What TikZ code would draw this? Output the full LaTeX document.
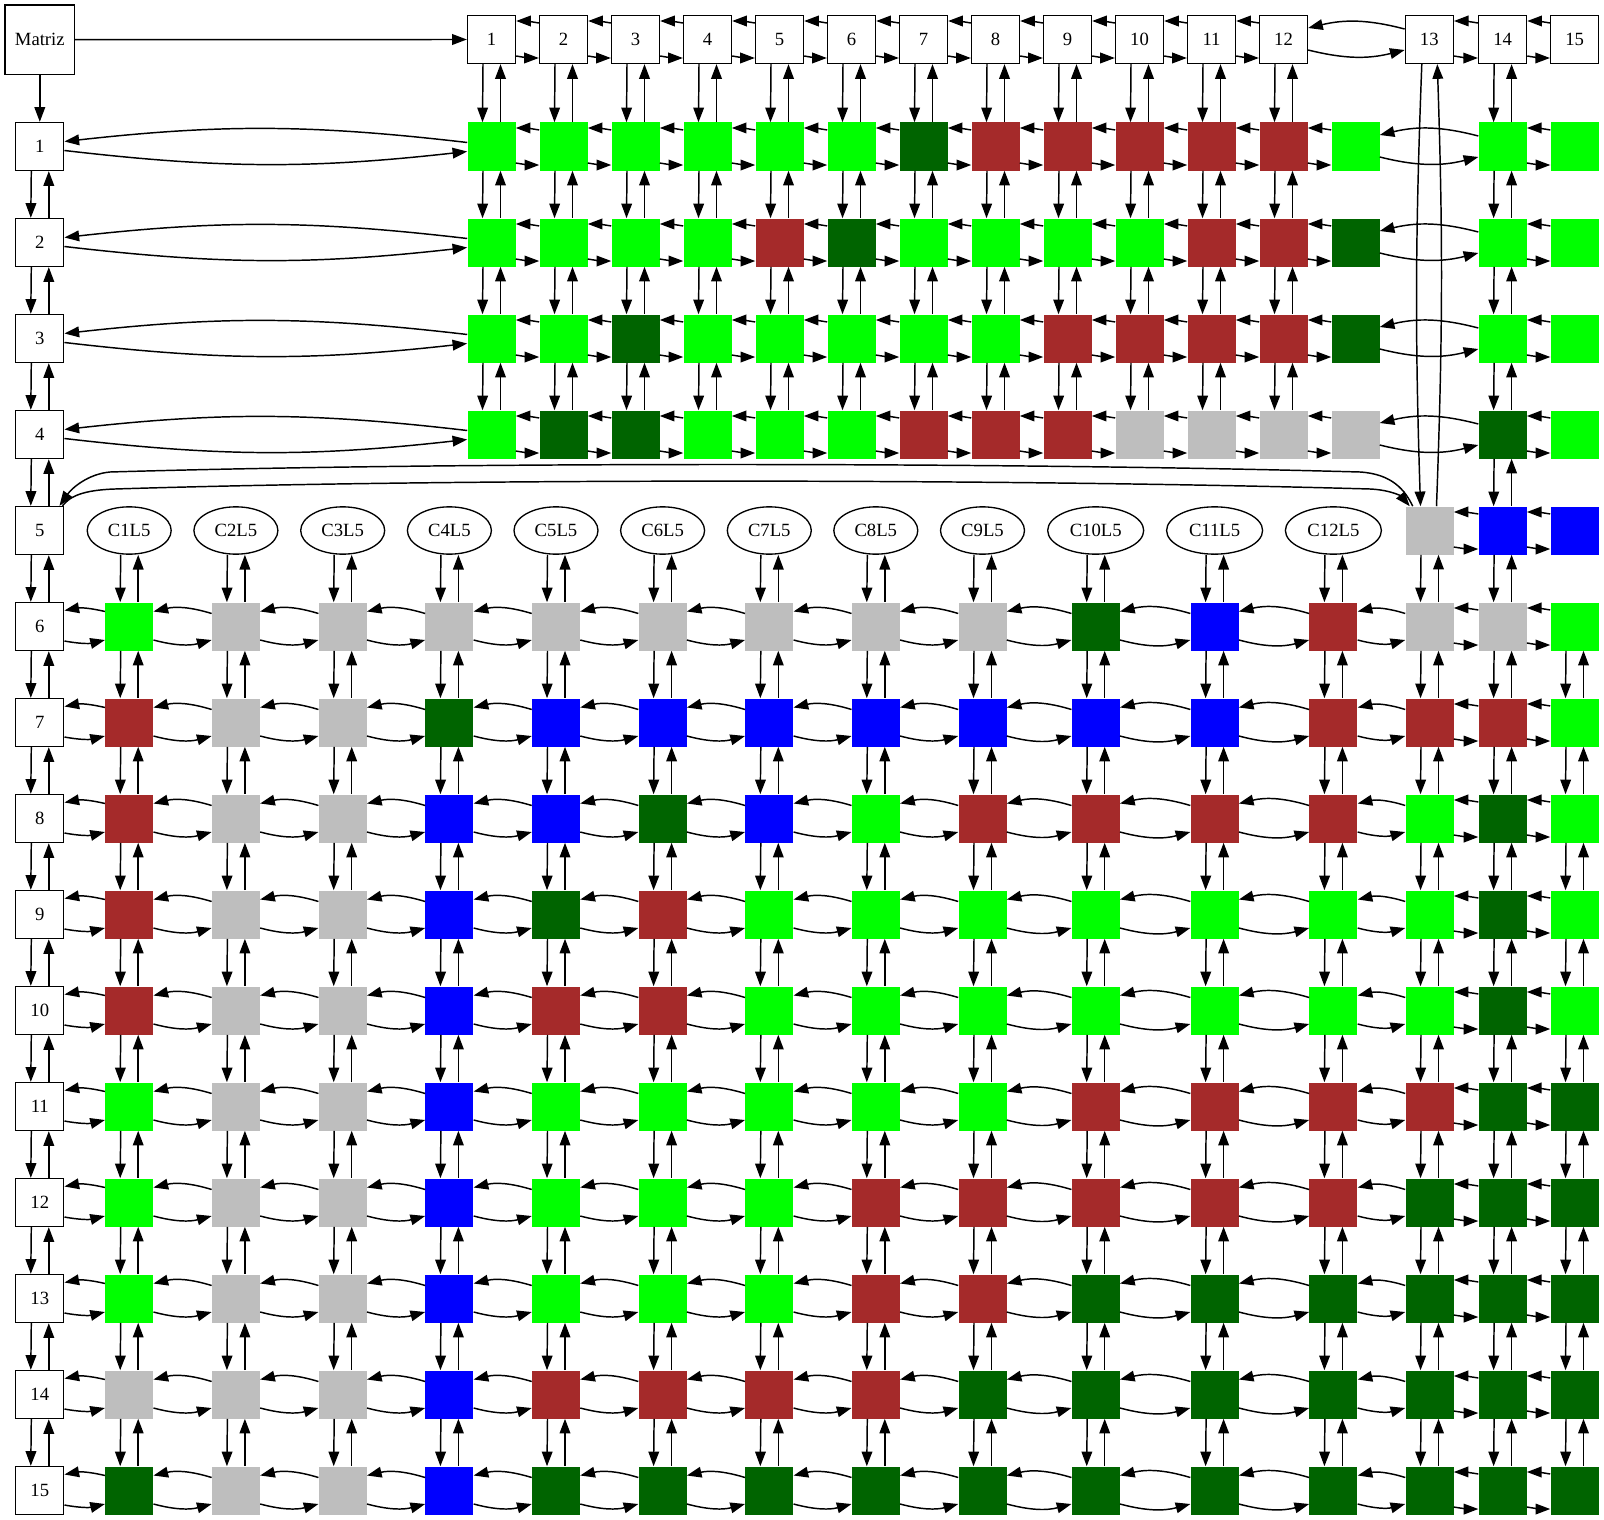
\documentclass[tikz,border=0pt]{standalone}
\usepackage{fontspec}
\setmainfont{Liberation Serif}
\usetikzlibrary{arrows.meta,calc,shapes.geometric}
\definecolor{cG}{RGB}{0,255,0}
\definecolor{cD}{RGB}{0,100,0}
\definecolor{cR}{RGB}{165,42,42}
\definecolor{cS}{RGB}{190,190,190}
\definecolor{cB}{RGB}{0,0,255}
\newcommand\hshort[2]{%
  \draw[arr] ($(#2.west)+(0,16.5)$) to[bend right=5] ($(#1.east)+(0,18.5)$);
  \draw[arr] ($(#1.east)+(0,-16.5)$) to[bend right=5] ($(#2.west)+(0,-18.5)$);}
\newcommand\hmid[2]{%
  \draw[arr] ($(#2.west)+(0,13)$) to[bend right=15] ($(#1.east)+(0,15)$);
  \draw[arr] ($(#1.east)+(0,-13.5)$) to[bend right=15] ($(#2.west)+(0,-13.5)$);}
\newcommand\hwide[2]{%
  \draw[arr] ($(#2.west)+(0,10.5)$) to[bend right=14] ($(#1.east)+(0,11.5)$);
  \draw[arr] ($(#1.east)+(0,-10.5)$) to[bend right=14] ($(#2.west)+(0,-10.5)$);}
\newcommand\vpair[2]{%
  \draw[arr] ($(#1.south)+(-8.5,0)$) -- ($(#2.north)+(-9,0)$);
  \draw[arr] ($(#2.north)+(9,0)$) -- ($(#1.south)+(9,0)$);}
\def\topX{{491.5,563.5,635.5,707.5,779.5,851.5,923.5,995.5,1067.5,1139.5,1211.5,1283.5,1355.5,1502.6,1574.6}}
\def\lowX{{129.2,235.9,342.7,449.4,556,662.6,769.3,875.8,982.5,1095.7,1214.6,1333.4,1429.5,1502.6,1574.5}}
\begin{document}
\begin{tikzpicture}[x=0.75pt,y=0.75pt,
  font=\fontsize{14}{16}\selectfont,
  hdr/.style={draw,line width=1pt,minimum size=36pt,inner sep=0pt},
  cell/.style={minimum size=36pt,inner sep=0pt},
  ell/.style={draw,ellipse,line width=1pt,inner sep=0pt,minimum height=35.5pt},
  arr/.style={-{Triangle[length=11pt,width=8pt]},line width=1.1pt}]
\useasboundingbox (0,0) rectangle (1604,-1520);

% headers
\node[hdr,minimum size=52pt] (m) at (39.8,-39.7) {Matriz};
\foreach \x [count=\j] in {491.5,563.5,635.5,707.5,779.5,851.5,923.5,995.5,1067.5,1139.5,1211.5,1283.5,1429.3,1502.6,1574.6}
  \node[hdr] (h\j) at (\x,-39.5) {\j};
\foreach \i in {1,...,15}
  \node[hdr] (r\i) at (39.8,{-146.5-96*(\i-1)}) {\i};

% upper cells (rows 1-4)
\foreach \row [count=\i] in {
  {G,G,G,G,G,G,D,R,R,R,R,R,G,G,G},
  {G,G,G,G,R,D,G,G,G,G,R,R,D,G,G},
  {G,G,D,G,G,G,G,G,R,R,R,R,D,G,G},
  {G,D,D,G,G,G,R,R,R,S,S,S,S,D,G}}{
  \foreach \c [count=\j] in \row {
    \pgfmathsetmacro\xx{\topX[\j-1]}
    \node[cell,fill=c\c] (n-\i-\j) at (\xx,{-146.5-96*(\i-1)}) {};
  }
}

% row 5
\foreach \x [count=\j] in {129.2,235.9,342.7,449.4,556,662.6,769.3,875.8,982.5,1095.7,1214.6,1333.4}{
  \pgfmathsetmacro\ew{\j>9 ? 72 : 63}
  \node[ell,minimum width=\ew pt] (e\j) at (\x,-530.5) {C\j L5};
}
\node[cell,fill=cS] (n-5-13) at (1429.5,-530.5) {};
\node[cell,fill=cB] (n-5-14) at (1502.6,-530.5) {};
\node[cell,fill=cB] (n-5-15) at (1574.5,-530.5) {};

% lower cells (rows 6-15)
\foreach \row [count=\ii] in {
  {G,S,S,S,S,S,S,S,S,D,B,R,S,S,G},
  {R,S,S,D,B,B,B,B,B,B,B,R,R,R,G},
  {R,S,S,B,B,D,B,G,R,R,R,R,G,D,G},
  {R,S,S,B,D,R,G,G,G,G,G,G,G,D,G},
  {R,S,S,B,R,R,G,G,G,G,G,G,G,D,G},
  {G,S,S,B,G,G,G,G,G,R,R,R,R,D,D},
  {G,S,S,B,G,G,G,R,R,R,R,R,D,D,D},
  {G,S,S,B,G,G,G,R,R,D,D,D,D,D,D},
  {S,S,S,B,R,R,R,R,D,D,D,D,D,D,D},
  {D,S,S,B,D,D,D,D,D,D,D,D,D,D,D}}{
  \pgfmathtruncatemacro\i{\ii+5}
  \foreach \c [count=\j] in \row {
    \pgfmathsetmacro\xx{\lowX[\j-1]}
    \node[cell,fill=c\c] (n-\i-\j) at (\xx,{-146.5-96*(\i-1)}) {};
  }
}

% ---------- connectors ----------
\draw[arr] (m.east) -- (h1.west);
\draw[arr] (m.south) -- (r1.north);
\foreach \j in {1,...,11}{\pgfmathtruncatemacro\k{\j+1}\hshort{h\j}{h\k}}
\hwide{h12}{h13}
\hshort{h13}{h14}
\hshort{h14}{h15}
\foreach \i in {1,...,14}{\pgfmathtruncatemacro\k{\i+1}\vpair{r\i}{r\k}}

% rows 1-4
\foreach \i in {1,...,4}{
  \foreach \j in {1,...,12}{\pgfmathtruncatemacro\k{\j+1}\hshort{n-\i-\j}{n-\i-\k}}
  \hwide{n-\i-13}{n-\i-14}
  \hshort{n-\i-14}{n-\i-15}
  \draw[arr] ($(n-\i-1.west)+(0,4)$) to[bend right=6.5] ($(r\i.east)+(0,5)$);
  \draw[arr] ($(r\i.east)+(0,-4)$) to[bend right=6.5] ($(n-\i-1.west)+(0,-5)$);
}
\foreach \j in {1,...,12,14}{
  \vpair{h\j}{n-1-\j}
  \foreach \i in {1,2,3}{\pgfmathtruncatemacro\k{\i+1}\vpair{n-\i-\j}{n-\k-\j}}
}
\vpair{n-4-14}{n-5-14}

% row 5
\hshort{n-5-13}{n-5-14}
\hshort{n-5-14}{n-5-15}
\draw[arr] ($(h13.south)+(-7.5,0)$) to[bend right=2] ($(n-5-13.north)+(-9,0)$);
\draw[arr] ($(n-5-13.north)+(7,0)$) to[bend right=2] ($(h13.south)+(8,0)$);
\draw[arr] ($(n-5-13.north west)+(7.5,0)$) .. controls (1405,-490) and (1392,-474) .. (1360,-472)
  .. controls (1000,-462) and (450,-462) .. (110,-472)
  .. controls (88,-474) and (72,-488) .. ($(r5.north east)+(-5,0)$);
\draw[arr] ($(r5.north east)+(-2,0)$) .. controls (70,-496) and (84,-490) .. (115,-489)
  .. controls (450,-478.5) and (1000,-478.5) .. (1370,-489)
  .. controls (1392,-490) and (1402,-497) .. ($(n-5-13.north west)+(4.5,0)$);
\foreach \j in {1,...,12}{\vpair{e\j}{n-6-\j}}
\vpair{n-5-13}{n-6-13}
\vpair{n-5-14}{n-6-14}

% rows 6-15
\foreach \i in {6,...,15}{
  \draw[arr] ($(n-\i-1.west)+(0,15)$) to[bend right=12] ($(r\i.east)+(0,16)$);
  \draw[arr] ($(r\i.east)+(0,-14.5)$) to[bend right=12] ($(n-\i-1.west)+(0,-13.5)$);
  \foreach \j in {1,...,12}{\pgfmathtruncatemacro\k{\j+1}\hmid{n-\i-\j}{n-\i-\k}}
  \hshort{n-\i-13}{n-\i-14}
  \hshort{n-\i-14}{n-\i-15}
}
\foreach \i in {6,...,14}{
  \pgfmathtruncatemacro\k{\i+1}
  \foreach \j in {1,...,15}{\vpair{n-\i-\j}{n-\k-\j}}
}
\end{tikzpicture}
\end{document}
